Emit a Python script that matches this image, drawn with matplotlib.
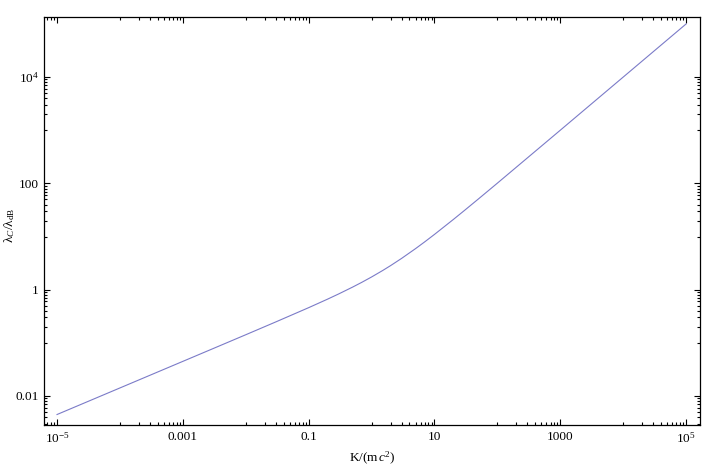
import matplotlib
matplotlib.use("Agg")
import matplotlib.pyplot as plt
import numpy as np
from matplotlib.ticker import FixedLocator, NullFormatter

# values
K_over_mc2 = [1e-5, 1e-4, 1e-3, 3e-3, 1e-2, 0.03, 0.1, 0.2, 0.3, 0.5, 0.7, 1.0, 1.5,
              2.0, 3.0, 5.0, 7.0, 10.0, 20.0, 30.0, 50.0, 100.0, 1e3, 1e4, 1e5]
ratio = [0.004472, 0.014143, 0.04474, 0.07752, 0.14177, 0.2470, 0.4583, 0.6633, 0.8307,
         1.118, 1.3748, 1.732, 2.291, 2.828, 3.873, 5.916, 7.937, 10.954, 20.976,
         30.984, 50.990, 100.995, 1001.0, 10001.0, 100001.0]

x_major = [1e-5, 1e-3, 1e-1, 1e1, 1e3, 1e5]
x_labels = [r"$10^{-5}$", "0.001", "0.1", "10", "1000", r"$10^{5}$"]
y_major = [1e-2, 1, 1e2, 1e4]
y_labels = ["0.01", "1", "100", r"$10^{4}$"]

plt.rcParams['font.family'] = ['Liberation Serif', 'DejaVu Serif']
plt.rcParams['mathtext.fontset'] = 'custom'
plt.rcParams['mathtext.rm'] = 'Liberation Serif'
plt.rcParams['mathtext.it'] = 'Liberation Serif:italic'

fig = plt.figure(figsize=(7.04, 4.67), dpi=100)
ax = fig.add_axes([0.0625, 0.0899, 0.9318, 0.8737])

ax.plot(K_over_mc2, ratio, color='#7b7bc8', lw=0.8)
ax.set_xscale('log')
ax.set_yscale('log')
ax.set_xlim(10**-5.207, 10**5.22)
ax.set_ylim(10**-2.547, 10**5.13)

def minors(majors):
    out = []
    for m in majors:
        base = m / 10.0
        out += [k * base for k in range(1, 10)]
    return out

ax.xaxis.set_major_locator(FixedLocator(x_major))
ax.set_xticklabels(x_labels)
ax.xaxis.set_minor_locator(FixedLocator(minors(x_major)))
ax.xaxis.set_minor_formatter(NullFormatter())
ax.yaxis.set_major_locator(FixedLocator(y_major))
ax.set_yticklabels(y_labels)
ax.yaxis.set_minor_locator(FixedLocator(minors(y_major)))
ax.yaxis.set_minor_formatter(NullFormatter())

ax.tick_params(which='both', direction='in', top=True, right=True, labelsize=9.5, width=0.8)
ax.tick_params(which='major', length=4.5, pad=4)
ax.tick_params(which='minor', length=2.5)
for s in ax.spines.values():
    s.set_linewidth(0.9)

ax.set_xlabel(r"$\mathrm{K/(m}\,c^{2}\mathrm{)}$", fontsize=9.5)
ax.set_ylabel(r"$\mathrm{λ}_{C}/\mathrm{λ}_{\mathrm{dB}}$", fontsize=9.5)
ax.xaxis.set_label_coords(0.5, -0.06)
ax.yaxis.set_label_coords(-0.041, 0.49)

fig.savefig("out.png", dpi=100)
